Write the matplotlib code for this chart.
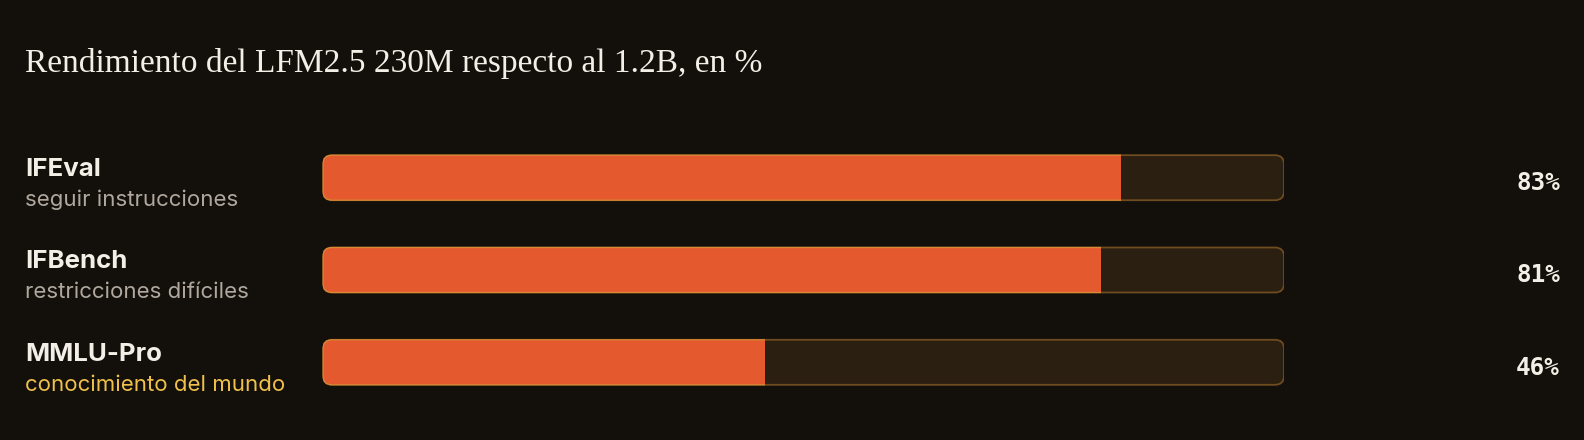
import matplotlib
matplotlib.use("Agg")
import matplotlib.pyplot as plt
from matplotlib.patches import FancyBboxPatch, Rectangle

# data
title = "Rendimiento del LFM2.5 230M respecto al 1.2B, en %"
benchmarks = ["IFEval", "IFBench", "MMLU-Pro"]
descriptions = ["seguir instrucciones", "restricciones difíciles", "conocimiento del mundo"]
values = [83, 81, 46]
highlight = 2  # row whose description is drawn in yellow

BG = "#13100c"
ORANGE = "#e5592f"
TRACK = "#2b1f12"
TRACK_EDGE = "#6e4c1f"
WHITE = "#f4efe6"
GREY = "#b0a89e"
YELLOW = "#f0c04a"

W, H = 1584, 440
fig = plt.figure(figsize=(W / 100, H / 100), dpi=100, facecolor=BG)

# full-figure axes in pixel units for the text layout
bg = fig.add_axes([0, 0, 1, 1])
bg.set_xlim(0, W); bg.set_ylim(H, 0); bg.axis("off")
bg.set_facecolor(BG)

bg.text(25, 72, title, family="Liberation Serif", fontsize=24, color=WHITE, va="baseline")

pitch = 92.3
for i, (name, desc, v) in enumerate(zip(benchmarks, descriptions, values)):
    y0 = 176 + i * pitch
    bg.text(25, y0, name, family="Inter", weight="bold", fontsize=18.6, color=WHITE, va="baseline")
    bg.text(25, y0 + 30, desc, family="Inter", fontsize=16,
            color=YELLOW if i == highlight else GREY, va="baseline")
    bg.text(1560, y0 + 14, f"{v}%", family="DejaVu Sans Mono", weight="bold", fontsize=17.5,
            color=WHITE, ha="right", va="baseline")

# bar axes: x in percent, y in row index
x0, x1 = 323, 1284
top, bottom = 270 - 1.5 * pitch, 270 + 1.5 * pitch
ax = fig.add_axes([x0 / W, 1 - bottom / H, (x1 - x0) / W, (bottom - top) / H])
ax.set_xlim(0, 100); ax.set_ylim(2.5, -0.5); ax.axis("off")

px_x = 100 / (x1 - x0)
px_y = 3 / (bottom - top)
aspect = px_y / px_x
bh = 45 * px_y
r = 9 * px_x

for i, v in enumerate(values):
    track = FancyBboxPatch((0, i - bh / 2), 100, bh,
                           boxstyle=f"round,pad=0,rounding_size={r}", mutation_aspect=aspect,
                           facecolor=TRACK, edgecolor=TRACK_EDGE, lw=1.3)
    ax.add_patch(track)
    fill = FancyBboxPatch((0, i - bh / 2), 100, bh,
                          boxstyle=f"round,pad=0,rounding_size={r}", mutation_aspect=aspect,
                          facecolor=ORANGE, edgecolor="#d98a35", lw=0.9)
    ax.add_patch(fill)
    clip = Rectangle((-1, i - bh), v + 1, 2 * bh, transform=ax.transData)
    fill.set_clip_path(clip)

fig.savefig("out.png", dpi=100, facecolor=BG)
